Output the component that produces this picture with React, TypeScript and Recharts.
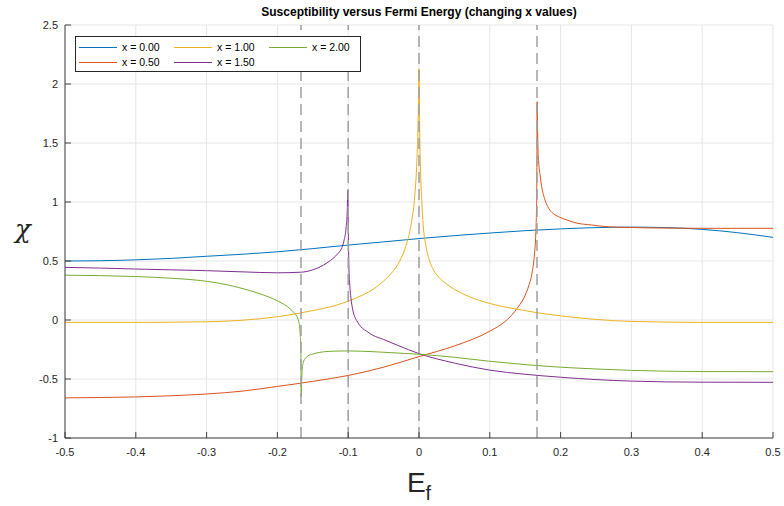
import React from 'react';
import { LineChart, Line, XAxis, YAxis, CartesianGrid, ReferenceLine, Legend } from 'recharts';

// axis ticks and the dashed guide positions
const xTicks = [-0.5, -0.4, -0.3, -0.2, -0.1, 0, 0.1, 0.2, 0.3, 0.4, 0.5];
const yTicks = [-1, -0.5, 0, 0.5, 1, 1.5, 2, 2.5];
const guideLines = [-1 / 6, -0.1, 0, 1 / 6];

// x = 0.00
const efX000 = [-0.5, -0.45, -0.4, -0.35, -0.3, -0.25, -0.2, -0.15, -0.1, -0.05, 0, 0.05, 0.1, 0.15, 0.2, 0.25, 0.3, 0.35, 0.4, 0.45, 0.5];
const chiX000 = [0.5, 0.502, 0.51, 0.522, 0.54, 0.557, 0.578, 0.605, 0.635, 0.662, 0.69, 0.715, 0.737, 0.757, 0.772, 0.783, 0.787, 0.783, 0.768, 0.74, 0.7];

// x = 0.50
const efX050 = [-0.5, -0.45, -0.4, -0.35, -0.3, -0.25, -0.2, -0.15, -0.1, -0.05, 0, 0.05, 0.1, 0.12, 0.13, 0.14, 0.15, 0.155, 0.16, 0.163, 0.165, 0.166, 0.1665,
  0.1668, 0.1675, 0.168, 0.169, 0.171, 0.1733, 0.178, 0.185, 0.19, 0.197, 0.21, 0.22, 0.244, 0.267, 0.291, 0.35, 0.4, 0.45, 0.5];
const chiX050 = [-0.66, -0.657, -0.652, -0.642, -0.627, -0.603, -0.563, -0.52, -0.47, -0.4, -0.31, -0.22, -0.095, -0.02, 0.035, 0.11, 0.21, 0.29, 0.41, 0.55, 0.74, 0.95, 1.29,
  1.85, 1.62, 1.46, 1.34, 1.23, 1.13, 1.017, 0.93, 0.9, 0.876, 0.845, 0.825, 0.805, 0.79, 0.785, 0.779, 0.777, 0.777, 0.777];

// x = 1.00
const efX100 = [-0.5, -0.4, -0.3, -0.25, -0.2, -0.167, -0.15, -0.12, -0.1, -0.08, -0.06, -0.05, -0.04, -0.03, -0.02, -0.015, -0.01, -0.006, -0.003, -0.001, 0,
  0.001, 0.002, 0.004, 0.006, 0.01, 0.015, 0.02, 0.03, 0.04, 0.05, 0.07, 0.1, 0.14, 0.18, 0.2, 0.25, 0.3, 0.4, 0.5];
const chiX100 = [-0.02, -0.02, -0.015, -0.002, 0.028, 0.06, 0.08, 0.12, 0.16, 0.21, 0.28, 0.33, 0.39, 0.47, 0.6, 0.7, 0.85, 1.05, 1.35, 1.75, 2.13,
  1.6, 1.3, 1.0, 0.8, 0.62, 0.5, 0.43, 0.35, 0.3, 0.26, 0.2, 0.14, 0.09, 0.05, 0.035, 0.005, -0.012, -0.02, -0.02];

// x = 1.50
const efX150 = [-0.5, -0.45, -0.4, -0.35, -0.3, -0.25, -0.2, -0.167, -0.15, -0.135, -0.125, -0.115, -0.11, -0.106, -0.103, -0.1015, -0.1005,
  -0.0998, -0.099, -0.098, -0.096, -0.094, -0.091, -0.088, -0.085, -0.08, -0.074, -0.065, -0.05, -0.03, 0, 0.05, 0.1, 0.15, 0.2, 0.25, 0.3, 0.4, 0.5];
const chiX150 = [0.446, 0.44, 0.432, 0.425, 0.418, 0.408, 0.4, 0.405, 0.425, 0.465, 0.505, 0.56, 0.6, 0.67, 0.78, 0.9, 1.1,
  0.75, 0.45, 0.32, 0.18, 0.1, 0.03, -0.005, -0.035, -0.07, -0.095, -0.13, -0.165, -0.215, -0.285, -0.365, -0.425, -0.46, -0.485, -0.505, -0.518, -0.527, -0.528];

// x = 2.00
const efX200 = [-0.5, -0.45, -0.4, -0.35, -0.3, -0.27, -0.25, -0.226, -0.2, -0.19, -0.182, -0.177, -0.173, -0.17, -0.169, -0.1678, -0.1669,
  -0.1664, -0.1658, -0.165, -0.1635, -0.161, -0.157, -0.15, -0.14, -0.13, -0.12, -0.1, -0.08, -0.06, -0.03, 0, 0.05, 0.1, 0.15, 0.2, 0.25, 0.3, 0.35, 0.4, 0.5];
const chiX200 = [0.38, 0.376, 0.368, 0.354, 0.328, 0.297, 0.268, 0.225, 0.163, 0.13, 0.095, 0.065, 0.035, -0.01, -0.04, -0.12, -0.23,
  -0.65, -0.52, -0.42, -0.36, -0.33, -0.305, -0.288, -0.274, -0.267, -0.264, -0.262, -0.265, -0.27, -0.28, -0.29, -0.316, -0.35, -0.378, -0.4, -0.415, -0.427, -0.434, -0.437, -0.438];

const toPoints = (ef: number[], chi: number[]) => ef.map((e, i) => ({ ef: e, chi: chi[i] }));

const series = [
  { name: 'x = 0.00', color: '#0072BD', data: toPoints(efX000, chiX000) },
  { name: 'x = 0.50', color: '#D95319', data: toPoints(efX050, chiX050) },
  { name: 'x = 1.00', color: '#EDB120', data: toPoints(efX100, chiX100) },
  { name: 'x = 1.50', color: '#7E2F8E', data: toPoints(efX150, chiX150) },
  { name: 'x = 2.00', color: '#77AC30', data: toPoints(efX200, chiX200) },
];

const font = '"Liberation Sans", Arial, sans-serif';
const axisColor = '#404040';
const tickStyle = { fill: '#262626', fontSize: 11, fontFamily: font };

const LegendBox = (props: any) => {
  const items = props.payload || [];
  return (
    <div style={{ position: 'relative', width: 284, height: 34, border: '1px solid #262626', background: '#fff', fontFamily: font, fontSize: 10.5, color: '#000' }}>
      {items.map((it: any, i: number) => (
        <div key={it.value} style={{ position: 'absolute', left: 3 + Math.floor(i / 2) * 95, top: 3 + (i % 2) * 15, height: 14, display: 'flex', alignItems: 'center', whiteSpace: 'nowrap' }}>
          <span style={{ display: 'inline-block', width: 38, height: 1, background: it.color, marginRight: 5 }} />
          <span>{it.value}</span>
        </div>
      ))}
    </div>
  );
};

const App: React.FC = () => {
  return (
    <div style={{ position: 'absolute', left: 0, top: 0, width: 784, height: 506, background: '#fff' }}>
      <div style={{ position: 'absolute', left: 65, top: 5, width: 708, textAlign: 'center', fontFamily: font, fontWeight: 700, fontSize: 12, color: '#000' }}>
        Susceptibility versus Fermi Energy (changing x values)
      </div>
      <LineChart width={784} height={506} margin={{ top: 25, right: 11, left: 0, bottom: 0 }}>
        <CartesianGrid stroke="#e6e6e6" strokeWidth={1} />
        <XAxis
          dataKey="ef" type="number" domain={[-0.5, 0.5]} ticks={xTicks} allowDataOverflow
          height={68} stroke={axisColor} tickSize={-6} tickMargin={16} tick={tickStyle}
          label={{
            content: ({ viewBox }: any) => (
              <text x={viewBox.x + viewBox.width / 2} y={492} textAnchor="middle" fill="#262626" fontFamily={font} fontSize={28}>
                E<tspan fontSize={20} dy={8}>f</tspan>
              </text>
            ),
          }}
        />
        <XAxis xAxisId="top" orientation="top" type="number" domain={[-0.5, 0.5]} ticks={xTicks} allowDataOverflow height={0} stroke={axisColor} tickSize={-6} tick={false} />
        <YAxis
          type="number" domain={[-1, 2.5]} ticks={yTicks} allowDataOverflow
          width={65} stroke={axisColor} tickSize={-6} tickMargin={13} tick={tickStyle}
          label={{
            content: ({ viewBox }: any) => (
              <text x={23} y={viewBox.y + viewBox.height / 2 + 6} textAnchor="middle" fill="#262626" fontFamily='"DejaVu Serif", serif' fontStyle="italic" fontSize={26}>
                χ
              </text>
            ),
          }}
        />
        <YAxis yAxisId="right" orientation="right" type="number" domain={[-1, 2.5]} ticks={yTicks} allowDataOverflow width={0} stroke={axisColor} tickSize={-6} tick={false} />
        {series.map((s) => (
          <Line
            key={s.name} data={s.data} dataKey="chi" name={s.name} type="monotone"
            stroke={s.color} strokeWidth={1} dot={false} activeDot={false} isAnimationActive={false}
          />
        ))}
        {guideLines.map((g) => (
          <ReferenceLine key={g} x={g} stroke="#a0a0a0" strokeWidth={1.5} strokeDasharray="11 6" />
        ))}
        <Legend
          layout="horizontal" verticalAlign="middle" align="center"
          wrapperStyle={{ left: 75, top: 36, width: 286, height: 36 }}
          content={<LegendBox />}
        />
      </LineChart>
    </div>
  );
};

export default App;
